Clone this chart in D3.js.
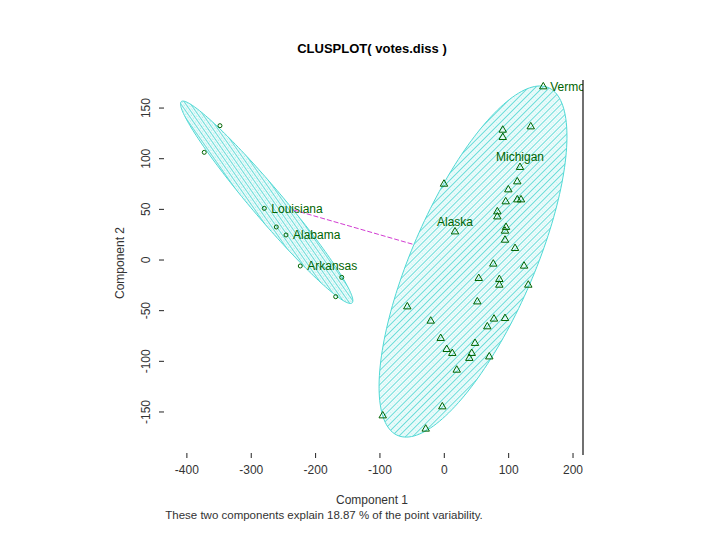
<!DOCTYPE html>
<html>
<head>
<meta charset="utf-8">
<script src="https://d3js.org/d3.v7.min.js"></script>
<style>
  body { margin: 0; background: #fff; }
  text { font-family: "Liberation Sans", Arial, sans-serif; }
</style>
</head>
<body>
<div id="chart"></div>
<script>
// component scores, cluster 1 (left, circles)
var clus1X = [-348.6, -373.0, -279.7, -261.1, -246.0, -223.8, -159.4, -168.8];
var clus1Y = [132.6, 106.3, 51.0, 32.6, 24.7, -5.9, -17.1, -36.2];

// cluster 2 (right, triangles)
var clus2X = [153.8, 134.3, 90.8, 90.8, 117.6, -0.5, 113.4, 99.5, 95.4, 113.4,
              119.2, 82.4, 82.4, 16.6, 95.9, 94.3, 94.3, 109.9, 76.1, 123.9,
              53.5, 85.5, 85.5, 130.5, -57.5, 51.3, -21.1, 66.8, 77.2, 94.3,
              -5.6, 3.7, 12.4, 47.7, 42.6, 38.9, 69.9, 19.3, -3.1, -95.7, -28.9];
var clus2Y = [171.1, 131.6, 128.3, 121.1, 91.5, 75.0, 77.3, 69.4, 57.6, 59.5,
              59.5, 47.7, 42.7, 27.9, 32.3, 28.6, 19.7, 11.5, -3.9, -5.9,
              -18.1, -19.1, -24.7, -24.7, -46.1, -41.2, -60.2, -65.8, -58.2, -57.6,
              -77.3, -88.2, -92.1, -82.2, -92.1, -97.0, -95.5, -108.6, -144.8, -153.7, -166.8];

// labelled states: cluster, index in that cluster, side of the label
var stateNames = ["Louisiana", "Alabama", "Arkansas", "Alaska", "Michigan", "Vermont"];
var stateClus  = [1, 1, 1, 2, 2, 2];
var stateIdx   = [2, 4, 5, 13, 4, 0];
var stateSide  = ["right", "right", "right", "above", "above", "right"];

// cluster ellipses (data units): centre, semi axes, angle in degrees
var ellCx  = [-276, 44.6];
var ellCy  = [57, -1.5];
var ellA   = [166, 210.3];
var ellB   = [19, 84.4];
var ellAng = [-36.5, 51.8];

var xTicks = [-400, -300, -200, -100, 0, 100, 200];
var yTicks = [-150, -100, -50, 0, 50, 100, 150];

var W = 720, H = 540;
var pLeft = 165, pRight = 583, pTop = 80, pBottom = 453;
var green = "#006400";

var svg = d3.select("#chart").append("svg")
  .attr("width", W).attr("height", H);

var x = d3.scaleLinear().domain([-434, 215.5]).range([pLeft, pRight]);
var y = d3.scaleLinear().domain([-190.5, 177.7]).range([pBottom, pTop]);

var defs = svg.append("defs");
defs.append("clipPath").attr("id", "plotclip")
  .append("rect").attr("x", pLeft).attr("y", pTop)
  .attr("width", pRight - pLeft).attr("height", pBottom - pTop);

// hatch patterns, one per cluster
function hatch(id, angle, step) {
  var p = defs.append("pattern").attr("id", id)
    .attr("patternUnits", "userSpaceOnUse")
    .attr("width", step).attr("height", step)
    .attr("patternTransform", "rotate(" + angle + ")");
  p.append("rect").attr("width", step).attr("height", step).attr("fill", "#f0fcfc");
  p.append("line").attr("x1", 0.5).attr("x2", 0.5).attr("y1", 0).attr("y2", step)
    .attr("stroke", "#5cd9d5").attr("stroke-width", 0.9);
  p.append("line").attr("x1", step / 2 + 0.5).attr("x2", step / 2 + 0.5).attr("y1", 0).attr("y2", step)
    .attr("stroke", "#9ae8e5").attr("stroke-width", 0.8).attr("stroke-dasharray", "1,1.5");
}
hatch("hatch1", -35, 4);
hatch("hatch2", 45, 5);

var plot = svg.append("g").attr("clip-path", "url(#plotclip)");

// ellipse outline in data space
function ellipsePts(k) {
  var phi = ellAng[k] * Math.PI / 180;
  return d3.range(0, 361, 2).map(function(d) {
    var t = d * Math.PI / 180;
    var u = ellA[k] * Math.cos(t), v = ellB[k] * Math.sin(t);
    return [ellCx[k] + u * Math.cos(phi) - v * Math.sin(phi),
            ellCy[k] + u * Math.sin(phi) + v * Math.cos(phi)];
  });
}
var line = d3.line().x(function(d) { return x(d[0]); }).y(function(d) { return y(d[1]); });

[0, 1].forEach(function(k) {
  plot.append("path")
    .attr("d", line(ellipsePts(k)) + "Z")
    .attr("fill", "url(#hatch" + (k + 1) + ")")
    .attr("stroke", "#4fd9d5")
    .attr("stroke-width", 1);
});

// points
var pts1 = clus1X.map(function(d, i) { return [d, clus1Y[i]]; });
var pts2 = clus2X.map(function(d, i) { return [d, clus2Y[i]]; });

plot.selectAll(".c1").data(pts1).enter().append("circle")
  .attr("cx", function(d) { return x(d[0]); })
  .attr("cy", function(d) { return y(d[1]); })
  .attr("r", 2)
  .attr("fill", "none").attr("stroke", green).attr("stroke-width", 1);

var tri = d3.symbol().type(d3.symbolTriangle).size(24);
plot.selectAll(".c2").data(pts2).enter().append("path")
  .attr("d", tri)
  .attr("transform", function(d) { return "translate(" + x(d[0]) + "," + y(d[1]) + ")"; })
  .attr("fill", "none").attr("stroke", green).attr("stroke-width", 1);

// segment between the two ellipses, along the line of centres
function edge(k, dx, dy) {
  var phi = ellAng[k] * Math.PI / 180;
  var p = dx * Math.cos(phi) + dy * Math.sin(phi);
  var q = -dx * Math.sin(phi) + dy * Math.cos(phi);
  var t = 1 / Math.sqrt((p / ellA[k]) * (p / ellA[k]) + (q / ellB[k]) * (q / ellB[k]));
  return [ellCx[k] + t * dx, ellCy[k] + t * dy];
}
var dxc = ellCx[1] - ellCx[0], dyc = ellCy[1] - ellCy[0];
var e0 = edge(0, dxc, dyc), e1 = edge(1, -dxc, -dyc);
plot.append("line")
  .attr("x1", x(e0[0])).attr("y1", y(e0[1]))
  .attr("x2", x(e1[0])).attr("y2", y(e1[1]))
  .attr("stroke", "#d23cd2").attr("stroke-width", 1)
  .attr("stroke-dasharray", "5,2");

// state labels
stateNames.forEach(function(name, i) {
  var px = stateClus[i] == 1 ? clus1X[stateIdx[i]] : clus2X[stateIdx[i]];
  var py = stateClus[i] == 1 ? clus1Y[stateIdx[i]] : clus2Y[stateIdx[i]];
  var t = plot.append("text")
    .attr("fill", green)
    .style("font-size", "12px")
    .text(name);
  if (stateSide[i] == "right") {
    t.attr("x", x(px) + 7).attr("y", y(py) + 4.5);
  } else {
    t.attr("x", x(px)).attr("y", y(py) - 6).attr("text-anchor", "middle");
  }
});

// axes (R style: ticks only, no axis line here)
var ax = svg.append("g");
xTicks.forEach(function(v) {
  ax.append("line").attr("x1", x(v)).attr("x2", x(v))
    .attr("y1", pBottom).attr("y2", pBottom + 5)
    .attr("stroke", "#222");
  ax.append("text").attr("x", x(v)).attr("y", 474)
    .attr("text-anchor", "middle").style("font-size", "12px")
    .attr("fill", "#333").text(v);
});
yTicks.forEach(function(v) {
  ax.append("line").attr("x1", pLeft - 6).attr("x2", pLeft - 1)
    .attr("y1", y(v)).attr("y2", y(v))
    .attr("stroke", "#222");
  ax.append("text")
    .attr("transform", "translate(150," + y(v) + ") rotate(-90)")
    .attr("text-anchor", "middle").style("font-size", "12px")
    .attr("fill", "#333").text(v);
});

// right edge of the box
svg.append("line").attr("x1", pRight).attr("x2", pRight)
  .attr("y1", pTop).attr("y2", pBottom + 2)
  .attr("stroke", "#111").attr("stroke-width", 1.2);

// titles
svg.append("text").attr("x", 372).attr("y", 53)
  .attr("text-anchor", "middle")
  .style("font-size", "13px").style("font-weight", "bold")
  .text("CLUSPLOT( votes.diss )");

svg.append("text").attr("x", 372).attr("y", 504)
  .attr("text-anchor", "middle").style("font-size", "12px").attr("fill", "#333")
  .text("Component 1");

svg.append("text")
  .attr("transform", "translate(124,263) rotate(-90)")
  .attr("text-anchor", "middle").style("font-size", "12px").attr("fill", "#333")
  .text("Component 2");

svg.append("text").attr("x", 324).attr("y", 519)
  .attr("text-anchor", "middle").style("font-size", "11.5px").attr("fill", "#333")
  .text("These two components explain 18.87 % of the point variability.");
</script>
</body>
</html>
